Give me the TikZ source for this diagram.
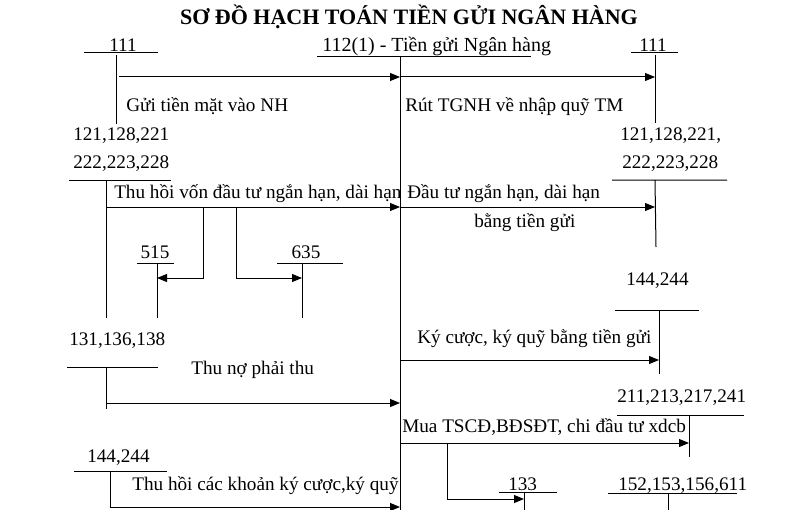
\documentclass[tikz,border=0pt]{standalone}
\usepackage{fontspec}
\setmainfont{Liberation Serif}
\usetikzlibrary{arrows.meta}
\begin{document}
\begin{tikzpicture}[x=0.75pt,y=-0.75pt,
  lbl/.style={anchor=base west,inner sep=0pt,font=\fontsize{14.4}{16}\selectfont},
  acc/.style={anchor=base,inner sep=0pt,font=\fontsize{14.4}{16}\selectfont},
  ln/.style={line width=0.75pt},
  arr/.style={line width=0.75pt,-{Triangle[length=7.5pt,width=6pt]}}]
\useasboundingbox (0,0) rectangle (810,510);
% title
\node[anchor=base,inner sep=0pt,font=\fontsize{16.5}{18}\selectfont\bfseries] (title) at (409,25) {SƠ ĐỒ HẠCH TOÁN TIỀN GỬI NGÂN HÀNG};
% texts
\node[acc] (t111a) at (123,52) {111};
\node[lbl,font=\fontsize{15}{17}\selectfont] (t112) at (322,52) {112(1) - Tiền gửi Ngân hàng};
\node[acc] (t111b) at (653,52) {111};
\node[lbl] (gui) at (126,111) {Gửi tiền mặt vào NH};
\node[lbl] (rut) at (405,111) {Rút TGNH về nhập quỹ TM};
\node[lbl] (t121a) at (73,140) {121,128,221};
\node[lbl] (t222a) at (73,168) {222,223,228};
\node[lbl] (t121b) at (620,140) {121,128,221,};
\node[lbl] (t222b) at (622,168) {222,223,228};
\node[lbl] (thuhoi) at (114,198) {Thu hồi vốn đầu tư ngắn hạn, dài hạn};
\node[lbl] (dautu) at (407,198) {Đầu tư ngắn hạn, dài hạn};
\node[lbl] (bang) at (474,227) {bằng tiền gửi};
\node[acc] (t515) at (155,258) {515};
\node[acc] (t635) at (306,258) {635};
\node[lbl] (t144b) at (626,285) {144,244};
\node[lbl] (t131) at (69,345) {131,136,138};
\node[lbl] (kycuoc) at (417,343) {Ký cược, ký quỹ bằng tiền gửi};
\node[lbl] (thuno) at (191,374) {Thu nợ phải thu};
\node[lbl] (t211) at (617,402) {211,213,217,241};
\node[lbl] (mua) at (402,432) {Mua TSCĐ,BĐSĐT, chi đầu tư xdcb};
\node[lbl] (t144a) at (87,462) {144,244};
\node[lbl] (thkq) at (132,490) {Thu hồi các khoản ký cược,ký quỹ};
\node[lbl] (t133) at (508,490) {133};
\node[lbl] (t152) at (618,490) {152,153,156,611};
% central account 112
\draw[ln] (317,57) -- (531,57);
\draw[ln] (400,57) -- (400,510);
% T accounts
\draw[ln] (84,53) -- (158,53) (116,55) -- (116,124);
\draw[ln] (631,53) -- (678,53) (655,55) -- (655,123);
\draw[ln] (69,180) -- (171,180) (106,180) -- (106,318);
\draw[ln] (612,180) -- (727,180) (655,180) -- (656,247);
\draw[ln] (137,263) -- (174,263) (157,263) -- (157,318);
\draw[ln] (277,263) -- (343,263) (302,263) -- (302,318);
\draw[ln] (615,310) -- (699,310) (659,310) -- (659,374);
\draw[ln] (67,367) -- (158,367) (106,367) -- (106,409);
\draw[ln] (617,415) -- (744,415) (689,415) -- (689,457);
\draw[ln] (499,492) -- (557,492) (524,492) -- (524,510);
\draw[ln] (608,493) -- (737,493) (668,493) -- (668,510);
\draw[ln] (74,471) -- (167,471) (110,471) -- (110,507);
% coordinates for connectors
\coordinate (a1s) at (119,77);  \coordinate (a1e) at (400,77);
\coordinate (a2s) at (400,77);  \coordinate (a2e) at (655,77);
\coordinate (a3s) at (106,207); \coordinate (a3e) at (400,207);
\coordinate (a4s) at (400,207); \coordinate (a4e) at (655,207);
\coordinate (b515) at (203,207); \coordinate (e515) at (157,278);
\coordinate (b635) at (236,207); \coordinate (e635) at (302,278);
\coordinate (a5s) at (400,360); \coordinate (a5e) at (659,360);
\coordinate (a6s) at (106,403); \coordinate (a6e) at (400,403);
\coordinate (a7s) at (400,443); \coordinate (a7e) at (689,443);
\coordinate (b133) at (447,443); \coordinate (e133) at (524,499);
\coordinate (a8s) at (110,507); \coordinate (a8e) at (400,507);
% connectors
\draw[arr] (a1s) -- (a1e);
\draw[arr] (a2s) -- (a2e);
\draw[arr] (a3s) -- (a3e);
\draw[arr] (a4s) -- (a4e);
\draw[arr] (b515) |- (e515);
\draw[arr] (b635) |- (e635);
\draw[arr] (a5s) -- (a5e);
\draw[arr] (a6s) -- (a6e);
\draw[arr] (a7s) -- (a7e);
\draw[arr] (b133) |- (e133);
\draw[arr] (a8s) -- (a8e);
\end{tikzpicture}
\end{document}
